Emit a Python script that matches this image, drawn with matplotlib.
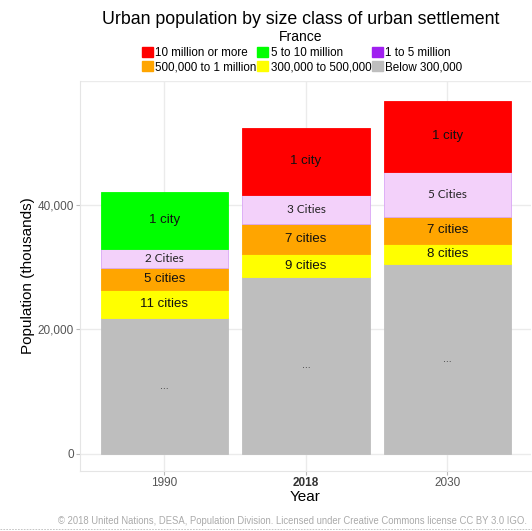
import matplotlib.pyplot as plt
from matplotlib.lines import Line2D
from matplotlib.patches import Patch

plt.rcParams['font.family'] = ['Liberation Sans', 'DejaVu Sans']

years = ['1990', '2018', '2030']

# population (thousands) by size class, bottom to top
below_300k = [21900, 28400, 30600]
k300_500 = [4500, 3700, 3200]
k500_1m = [3500, 4800, 4300]
m1_5 = [3100, 4700, 7300]
m5_10 = [9200, 0, 0]
m10_plus = [0, 10900, 11400]

lab_below = ['...', '...', '...']
lab_300 = ['11 cities', '9 cities', '8 cities']
lab_500 = ['5 cities', '7 cities', '7 cities']
lab_1_5 = ['2 Cities', '3 Cities', '5 Cities']
lab_5_10 = ['1 city', '', '']
lab_10 = ['', '1 city', '1 city']

series = [
    (below_300k, lab_below, '#BEBEBE', '#BEBEBE'),
    (k300_500, lab_300, '#FFFF00', '#FFFF00'),
    (k500_1m, lab_500, '#FFA500', '#FFA500'),
    (m1_5, lab_1_5, '#F3D1FA', '#D9A6F5'),
    (m5_10, lab_5_10, '#00FF00', '#00FF00'),
    (m10_plus, lab_10, '#FF0000', '#FF0000'),
]

fig = plt.figure(figsize=(5.32, 5.31), dpi=100)
ax = fig.add_axes([79.5 / 532, 60 / 531, (531 - 79.5) / 532, (471 - 81) / 531])

x = list(range(len(years)))
bottom = [0, 0, 0]
for vals, labs, fc, ec in series:
    idx = [i for i in x if vals[i] > 0]
    ax.bar(idx, [vals[i] for i in idx], width=0.9, bottom=[bottom[i] for i in idx],
           color=fc, edgecolor=ec, linewidth=0.6, zorder=2)
    for i in idx:
        t = labs[i]
        yc = bottom[i] + vals[i] / 2
        if 'Cities' in t:
            ax.text(i, yc, t, ha='center', va='center', fontsize=8.5,
                    family=['Lato', 'DejaVu Sans'], color='#222222', zorder=3)
        elif t == '...':
            ax.text(i, yc, t, ha='center', va='center', fontsize=7.5, color='#333333', zorder=3)
        elif t:
            ax.text(i, yc, t, ha='center', va='center', fontsize=9.5, color='#111111', zorder=3)
    bottom = [b + v for b, v in zip(bottom, vals)]

ax.set_xlim(-0.6, 2.59)
ax.set_ylim(-2800, 60000)
ax.set_yticks([0, 20000, 40000])
ax.set_yticklabels(['0', '20,000', '40,000'])
ax.axhline(60000, color='#EBEBEB', linewidth=1, zorder=0)
ax.set_xticks(x)
ax.set_xticklabels(years)
ax.tick_params(colors='#BBBBBB', labelcolor='#555555', labelsize=8.5, length=3, width=0.8, pad=1)
ax.get_xticklabels()[1].set_fontweight('bold')
ax.get_xticklabels()[1].set_color('#333333')
ax.grid(color='#EBEBEB', linewidth=1, zorder=0)
ax.set_axisbelow(True)
for s in ['top', 'right']:
    ax.spines[s].set_visible(False)
for s in ['left', 'bottom']:
    ax.spines[s].set_color('#E5E5E5')
ax.set_ylabel('Population (thousands)', fontsize=11, color='black', labelpad=2)
ax.set_xlabel('Year', fontsize=11, color='black', labelpad=1)

fig.text(0.565, 0.964, 'Urban population by size class of urban settlement', ha='center',
         va='center', fontsize=12.8)
fig.text(0.565, 0.931, 'France', ha='center', va='center', fontsize=10)

names = ['10 million or more', '500,000 to 1 million', '5 to 10 million',
         '300,000 to 500,000', '1 to 5 million', 'Below 300,000']
cols = ['#FF0000', '#FFA500', '#00FF00', '#FFFF00', '#A020F0', '#BEBEBE']
handles = [Patch(color=c, label=n) for c, n in zip(cols, names)]
fig.legend(handles=handles, ncol=3, loc='upper left', bbox_to_anchor=(142 / 532, 1 - 47 / 531),
           frameon=False, fontsize=8.4, handlelength=0.95, handleheight=0.95, handletextpad=0.2,
           columnspacing=0.05, labelspacing=0.2, borderpad=0, borderaxespad=0)

fig.text(527 / 532, 1 - 521 / 531,
         '\u00a9 2018 United Nations, DESA, Population Division. Licensed under Creative Commons license CC BY 3.0 IGO.',
         ha='right', va='center', fontsize=6.85, color='#AAAAAA')
fig.add_artist(Line2D([0, 1], [1 - 529 / 531] * 2, transform=fig.transFigure, color='#BBBBBB',
                      linewidth=0.6, linestyle=(0, (2, 1.5))))

fig.savefig('out.png', dpi=100)
